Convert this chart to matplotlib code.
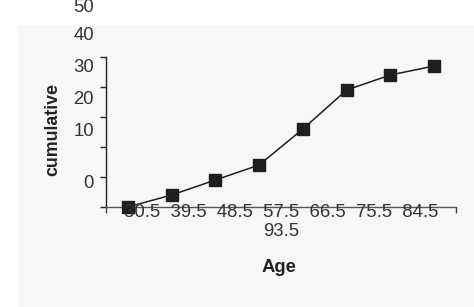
import matplotlib
matplotlib.use("Agg")
import matplotlib.pyplot as plt
from matplotlib.patches import Rectangle

plt.rcParams['font.family'] = ['Liberation Sans', 'DejaVu Sans']

# Data
x_labels = ["30.5", "39.5", "48.5", "57.5", "66.5", "75.5", "84.5", "93.5"]
cumulative = [0, 4, 9, 14, 26, 39, 44, 47]
y_tick_values = [0, 10, 20, 30, 40, 50]
y_tick_labels = ["0", "10", "20", "30", "40", "50"]

W, H = 474, 307
fig = plt.figure(figsize=(W / 100, H / 100), dpi=100, facecolor="white")

# gray chart panel
fig.patches.append(Rectangle((18 / W, 0), 1 - 18 / W, (H - 25) / H,
                             transform=fig.transFigure, facecolor="#f7f7f7",
                             edgecolor="none", zorder=-10))

ax = fig.add_axes([106 / W, (H - 207) / H, 350 / W, 150 / H])
ax.set_zorder(5)
ax.set_facecolor("none")

xs = list(range(len(cumulative)))
ax.plot(xs, cumulative, color="#1e1e1e", lw=1.1, marker="s", markersize=8.6,
        markerfacecolor="#1e1e1e", markeredgecolor="#1e1e1e", clip_on=False, zorder=5)

ax.set_xlim(-0.5, len(cumulative) - 0.5)
ax.set_ylim(0, 50)
for s in ["top", "right"]:
    ax.spines[s].set_visible(False)
ax.spines["left"].set_color("#222222")
ax.spines["bottom"].set_color("#555555")
ax.spines["left"].set_linewidth(1.0)
ax.spines["bottom"].set_linewidth(1.0)

ax.set_yticks(y_tick_values)
ax.set_yticklabels([])
ax.tick_params(axis="y", direction="out", length=4.5, width=1.0, color="#222222")
ax.set_xticks([-0.5, len(cumulative) - 0.5])
ax.set_xticklabels([])
ax.tick_params(axis="x", direction="out", length=4, width=1.0, color="#444444")

# misplaced y tick labels (as in the reference)
label_px = [183, 132, 100, 68, 36, 7]
for lab, py in zip(y_tick_labels, label_px):
    fig.text(94 / W, 1 - py / H, lab, ha="right", va="center",
             fontsize=13.3, color="#333333")

# wrapped category labels
xtext = "  ".join(x_labels[:-1]) + "\n" + x_labels[-1]
fig.text(281 / W, 1 - 204 / H, xtext, ha="center", va="top", multialignment="center",
         fontsize=13.3, color="#333333", linespacing=1.15, zorder=6)

fig.text(279 / W, 1 - 268 / H, "Age", ha="center", va="center",
         fontsize=13.3, fontweight="bold", color="#222222")
fig.text(53 / W, 1 - 130 / H, "cumulative", ha="center", va="center", rotation=90,
         fontsize=12.8, fontweight="bold", color="#222222")

fig.savefig("out.png", dpi=100, facecolor="white")
